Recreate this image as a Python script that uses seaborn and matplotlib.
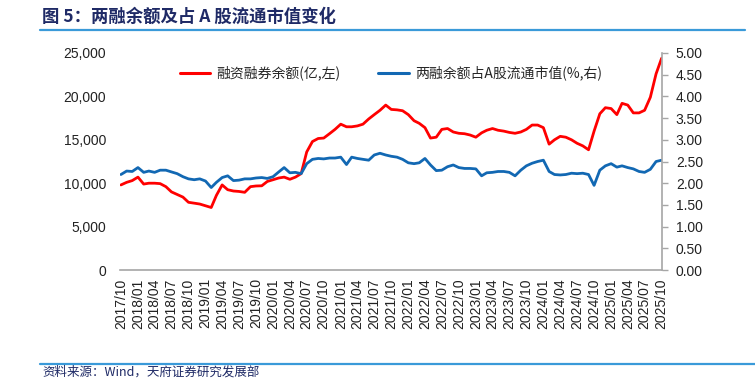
"""
plot.py — 两融余额及占A股流通市值变化 (margin balance vs. share of free-float cap).
"""

import matplotlib
matplotlib.use("Agg")
import matplotlib.pyplot as plt
import matplotlib.dates as mdates
from matplotlib.lines import Line2D
from matplotlib.ticker import FuncFormatter
import pandas as pd
import seaborn as sns

# ---- data (monthly readings, 2017/10 .. 2025/10) ----
START = "2017-10-01"
END = "2025-10-01"

margin_balance = [  # 融资融券余额, 亿元
    9800, 10100, 10300, 10700, 9900, 10000, 10000, 9950, 9600, 9000,
    8700, 8400, 7800, 7700, 7600, 7400, 7200, 8600, 9800, 9250,
    9100, 9050, 8950, 9600, 9680, 9700, 10200, 10400, 10600, 10700,
    10450, 10700, 11100, 13600, 14800, 15150, 15200, 15700, 16200, 16800,
    16500, 16500, 16600, 16800, 17400, 17900, 18400, 19000, 18500, 18450,
    18350, 17900, 17200, 16900, 16400, 15200, 15300, 16200, 16300, 15900,
    15750, 15700, 15550, 15300, 15800, 16100, 16300, 16100, 16000, 15850,
    15750, 15900, 16200, 16700, 16700, 16400, 14500, 15000, 15400, 15300,
    15000, 14600, 14300, 13850, 16000, 18000, 18700, 18600, 17900, 19200,
    19000, 18100, 18100, 18400, 19900, 22600, 24400,
]

margin_share = [  # 两融余额占A股流通市值, %
    2.20, 2.28, 2.27, 2.36, 2.25, 2.28, 2.25, 2.30, 2.30, 2.26,
    2.22, 2.15, 2.10, 2.08, 2.10, 2.05, 1.90, 2.02, 2.13, 2.17,
    2.06, 2.07, 2.10, 2.10, 2.12, 2.13, 2.11, 2.15, 2.26, 2.36,
    2.24, 2.25, 2.22, 2.45, 2.55, 2.57, 2.56, 2.58, 2.58, 2.60,
    2.43, 2.60, 2.57, 2.55, 2.53, 2.65, 2.69, 2.65, 2.62, 2.60,
    2.55, 2.47, 2.45, 2.47, 2.57, 2.42, 2.29, 2.30, 2.38, 2.42,
    2.36, 2.34, 2.34, 2.33, 2.17, 2.24, 2.25, 2.27, 2.27, 2.25,
    2.17, 2.30, 2.40, 2.46, 2.50, 2.53, 2.27, 2.20, 2.19, 2.20,
    2.23, 2.22, 2.23, 2.20, 1.95, 2.30, 2.40, 2.45, 2.37, 2.40,
    2.36, 2.33, 2.27, 2.25, 2.32, 2.50, 2.53,
]

LEFT_TICKS = [0, 5000, 10000, 15000, 20000, 25000]
RIGHT_TICKS = [0.0, 0.5, 1.0, 1.5, 2.0, 2.5, 3.0, 3.5, 4.0, 4.5, 5.0]

TITLE = "图 5：两融余额及占 A 股流通市值变化"
SOURCE = "资料来源：Wind，天府证券研究发展部"
LABEL_LEFT = "融资融券余额(亿,左)"
LABEL_RIGHT = "两融余额占A股流通市值(%,右)"

RED = "#FF0000"
BLUE = "#1268B3"
NAVY = "#1F2A66"
RULE = "#3A9AD9"
GREY = "#A6A6A6"

sns.set_theme(style="white")
plt.rcParams["font.family"] = ["Noto Sans CJK SC", "DejaVu Sans"]
NUM_FONT = "Liberation Sans"

df = pd.DataFrame({
    "date": pd.date_range(START, END, freq="MS"),
    "balance": margin_balance,
    "share": margin_share,
})

W, H = 755, 380
fig = plt.figure(figsize=(W / 100, H / 100), dpi=100)
ax = fig.add_axes([120 / W, 1 - 270 / H, 542 / W, 217 / H])
ax2 = ax.twinx()

sns.lineplot(data=df, x="date", y="balance", ax=ax, color=RED, linewidth=2.0)
sns.lineplot(data=df, x="date", y="share", ax=ax2, color=BLUE, linewidth=2.0)

# x axis: quarterly labels, vertical
ax.set_xlim(pd.Timestamp("2017-09-26"), pd.Timestamp("2025-10-03"))
ax.xaxis.set_major_locator(mdates.MonthLocator(bymonth=[1, 4, 7, 10]))
ax.xaxis.set_major_formatter(mdates.DateFormatter("%Y/%m"))
for lab in ax.get_xticklabels():
    lab.set_rotation(90)
    lab.set_fontsize(10)
    lab.set_fontfamily(NUM_FONT)
    lab.set_color("#222222")
ax.tick_params(axis="x", length=0, pad=6)

# left axis
ax.set_ylim(0, 25000)
ax.set_yticks(LEFT_TICKS)
ax.yaxis.set_major_formatter(FuncFormatter(lambda v, _: f"{v:,.0f}"))
ax.tick_params(axis="y", length=0, pad=10)
for lab in ax.get_yticklabels():
    lab.set_fontsize(10)
    lab.set_fontfamily(NUM_FONT)
    lab.set_color("#222222")

# right axis
ax2.set_ylim(0, 5)
ax2.set_yticks(RIGHT_TICKS)
ax2.yaxis.set_major_formatter(FuncFormatter(lambda v, _: f"{v:.2f}"))
ax2.tick_params(axis="y", length=4, width=1, color=GREY, pad=6, right=True)
for lab in ax2.get_yticklabels():
    lab.set_fontsize(10)
    lab.set_fontfamily(NUM_FONT)
    lab.set_color("#222222")

for a in (ax, ax2):
    a.set_xlabel("")
    a.set_ylabel("")
    a.grid(False)
    for side in ("top", "left"):
        a.spines[side].set_visible(False)
ax.spines["right"].set_visible(False)
ax2.spines["right"].set_color(GREY)
ax2.spines["right"].set_linewidth(1.2)
ax2.spines["bottom"].set_visible(False)
ax.spines["bottom"].set_color(GREY)
ax.spines["bottom"].set_linewidth(1.2)

handles = [Line2D([], [], color=RED, lw=2.2), Line2D([], [], color=BLUE, lw=2.2)]
ax.legend(handles, [LABEL_LEFT, LABEL_RIGHT], loc="upper left",
          bbox_to_anchor=(0.087, 1.0), ncol=2, frameon=False, fontsize=10,
          handlelength=2.2, handletextpad=0.45, columnspacing=2.7)

# header / footer
fig.text(42 / W, 1 - 17 / H, TITLE, fontsize=12.5, fontweight="bold",
         color=NAVY, ha="left", va="center")
fig.add_artist(Line2D([40 / W, 745 / W], [1 - 30 / H, 1 - 30 / H],
                      color=RULE, lw=1.6, transform=fig.transFigure))
fig.add_artist(Line2D([40 / W, 1.0], [1 - 364 / H, 1 - 364 / H],
                      color=RULE, lw=1.6, transform=fig.transFigure))
fig.text(42 / W, 1 - 372.5 / H, SOURCE, fontsize=9, color=NAVY,
         ha="left", va="center")

fig.savefig("out.png", dpi=100)
plt.close(fig)
